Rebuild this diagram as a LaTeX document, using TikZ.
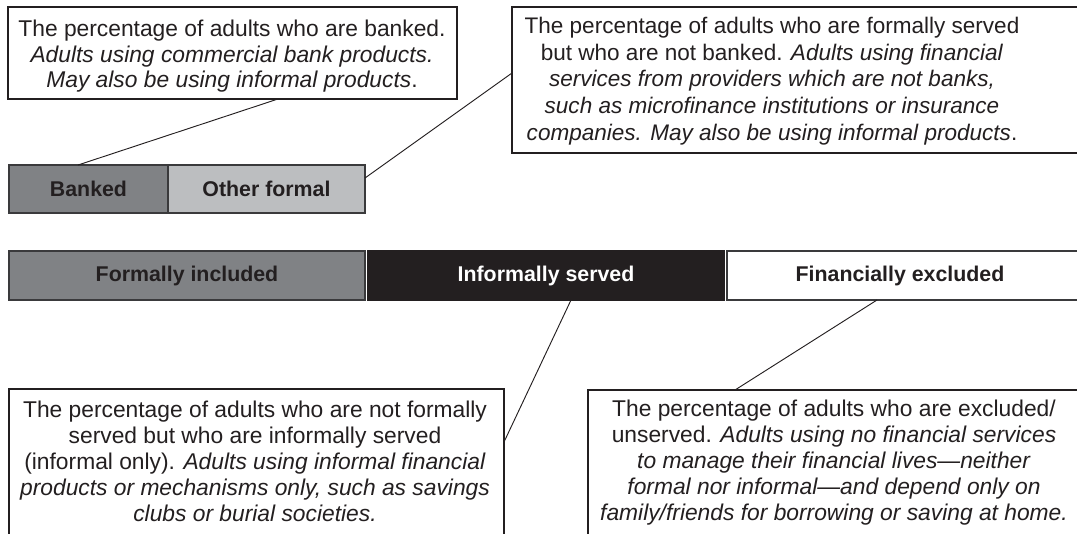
\documentclass[tikz,border=0pt]{standalone}
\usepackage{fontspec}
\setmainfont{Liberation Sans}
\usetikzlibrary{calc}
\definecolor{ink}{HTML}{231F20}
\definecolor{edge}{HTML}{3A3A3C}
\definecolor{midgray}{HTML}{808285}
\definecolor{lightgray}{HTML}{BCBEC0}
\begin{document}
\begin{tikzpicture}[x=0.75pt,y=-0.75pt,
  barbox/.style={draw=edge, line width=1.1pt, inner sep=0pt, outer sep=0pt, anchor=north west,
    font=\fontsize{16pt}{18pt}\selectfont\bfseries, text=ink},
  notebox/.style={draw=ink, line width=1.8pt, inner sep=0pt, outer sep=0pt, anchor=north west, fill=white},
  notetext/.style={anchor=north, align=center, inner sep=0pt, text=ink,
    font=\fontsize{17.1pt}{19.5pt}\selectfont},
  link/.style={draw=ink, line width=0.7pt}]
\path[use as bounding box] (0,0) rectangle (1077,533);
\clip (0,0) rectangle (1077,533);

% note boxes
\node[notebox, minimum width=336.75pt, minimum height=69pt] (tl) at (8,7) {};
\node[notebox, minimum width=441pt, minimum height=109.5pt] (tr) at (512,7) {};
\node[notebox, minimum width=371.25pt, minimum height=150pt] (bl) at (9,389) {};
\node[notebox, minimum width=384pt, minimum height=150pt] (br) at (588,390) {};

\node[notetext, font=\fontsize{17.1pt}{19pt}\selectfont] (tltext) at (232,20) {The percentage of adults who are banked.\\
  \textit{Adults using commercial bank products.}\\
  \textit{May also be using informal products}.};
\node[notetext, font=\fontsize{16.9pt}{20pt}\selectfont] (trtext) at (772,17) {The percentage of adults who are formally served\\
  but who are not banked. \textit{Adults using financial}\\
  \textit{services from providers which are not banks,}\\
  \textit{such as microfinance institutions or insurance}\\
  \textit{companies. May also be using informal products}.};
\node[notetext] (bltext) at (255,401) {The percentage of adults who are not formally\\
  served but who are informally served\\
  (informal only). \textit{Adults using informal financial}\\
  \textit{products or mechanisms only, such as savings}\\
  \textit{clubs or burial societies.}};
\node[notetext] (brtext) at (834,400) {The percentage of adults who are excluded/\\
  unserved. \textit{Adults using no financial services}\\
  \textit{to manage their financial lives—neither}\\
  \textit{formal nor informal—and depend only on}\\
  \textit{family/friends for borrowing or saving at home.}};

% bars
\node[barbox, fill=midgray, minimum width=119.25pt, minimum height=36pt] (banked) at (9,165) {Banked};
\node[barbox, fill=lightgray, minimum width=147.75pt, minimum height=36pt] (other) at (168,165) {Other formal};
\node[barbox, fill=midgray, minimum width=267pt, minimum height=36.75pt] (formal) at (9,251) {Formally included};
\node[barbox, fill=ink, draw=ink, text=white, minimum width=267pt, minimum height=36.75pt] (informal) at (368,251) {Informally served};
\node[barbox, fill=white, minimum width=279.75pt, minimum height=36.75pt] (excl) at (727,251) {};
\node[font=\fontsize{16pt}{18pt}\selectfont\bfseries, text=ink, inner sep=0pt] (excltext) at (900,275.5) {Financially excluded};

% connectors
\draw[link] ($(banked.north west)+(69,0)$) -- ($(tl.south west)+(270,0)$);
\draw[link] ($(other.north east)+(0,13)$) -- ($(tr.north west)+(0,66)$);
\draw[link] ($(informal.south west)+(203,0)$) -- ($(bl.north east)+(0,53)$);
\draw[link] ($(excl.south west)+(150,0)$) -- ($(br.north west)+(147,0)$);
\end{tikzpicture}
\end{document}
